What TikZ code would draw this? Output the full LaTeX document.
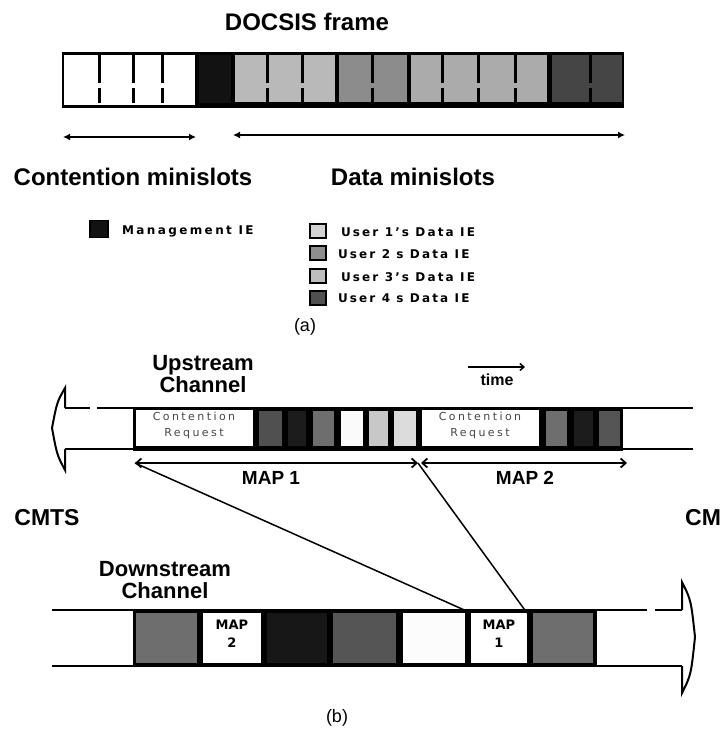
\documentclass[tikz,border=0pt]{standalone}
\usepackage{fontspec}
\setmainfont{Liberation Sans}
\newfontfamily\dvA[LetterSpace=20]{DejaVu Sans}
\newfontfamily\dvB[LetterSpace=18]{DejaVu Sans}
\newfontfamily\dvC[LetterSpace=22]{DejaVu Sans}
\newfontfamily\dvD{DejaVu Sans}
\usetikzlibrary{arrows.meta,fit}
\definecolor{ua}{HTML}{B9B9B9}
\definecolor{ub}{HTML}{8C8C8C}
\definecolor{uc}{HTML}{ABABAB}
\definecolor{ud}{HTML}{454545}
\definecolor{la}{HTML}{D2D2D2}
\definecolor{lb}{HTML}{8E8E8E}
\definecolor{lc}{HTML}{BEBEBE}
\definecolor{ld}{HTML}{505050}
\definecolor{gA}{HTML}{505050}
\definecolor{gB}{HTML}{1C1C1C}
\definecolor{gC}{HTML}{6E6E6E}
\definecolor{gD}{HTML}{C8C8C8}
\definecolor{gE}{HTML}{DCDCDC}
\definecolor{gF}{HTML}{555555}
\newcommand\cellbox[6]{\node[fit={(#2,#3) (#4,#5)}, inner sep=0pt, outer sep=0pt, fill=#6, draw=none] (#1) {};}
\tikzset{
  biglbl/.style={inner sep=0pt, outer sep=0pt, font=\bfseries\fontsize{24}{26}\selectfont},
  midlbl/.style={inner sep=0pt, outer sep=0pt, align=center, font=\bfseries\fontsize{22}{22}\selectfont},
  maplbl/.style={inner sep=0pt, outer sep=0pt, font=\bfseries\fontsize{19}{19}\selectfont},
  capt/.style={inner sep=0pt, outer sep=0pt, font=\fontsize{18}{18}\selectfont},
  sq/.style={draw=black, line width=1.6pt, inner sep=0pt, minimum width=16pt, minimum height=14pt},
  legA/.style={inner sep=0pt, outer sep=0pt, anchor=west, font=\dvA\bfseries\fontsize{12}{12}\selectfont},
  legB/.style={inner sep=0pt, outer sep=0pt, anchor=west, font=\dvB\bfseries\fontsize{12}{12}\selectfont},
  crtext/.style={inner sep=0pt, outer sep=0pt, align=center, text=black!72, font=\dvC\fontsize{11}{16}\selectfont},
  maptext/.style={inner sep=0pt, outer sep=0pt, align=center, font=\dvD\bfseries\fontsize{13}{18}\selectfont},
  divline/.style={line width=3pt, black, dash pattern=on 28pt off 5pt},
  spanarrow/.style={line width=2pt, {Latex[length=7pt,width=7pt]}-{Latex[length=7pt,width=7pt]}},
  maparrow/.style={line width=1.8pt, {Straight Barb[length=5pt,width=9pt]}-{Straight Barb[length=5pt,width=9pt]}},
  chan/.style={line width=2pt, black},
  conn/.style={line width=1.5pt, black},
}
\begin{document}
\begin{tikzpicture}[x=1pt,y=-1pt]
\useasboundingbox (0,0) rectangle (723,732);
\fill[white] (0,0) rectangle (723,732);

% ---------------- (a) ----------------
\node[biglbl] (title) at (307,22) {DOCSIS frame};
\node[fit={(62,52) (624,108)}, inner sep=0pt, outer sep=0pt, fill=black] (frame) {};
\cellbox{cw}{64}{55}{195}{105}{white}
\cellbox{cmg}{199}{55}{231}{103}{black!93}
\cellbox{cua}{235}{55}{335}{102}{ua}
\cellbox{cub}{339}{55}{407}{102}{ub}
\cellbox{cuc}{411}{55}{547}{102}{uc}
\cellbox{cud}{552}{55}{622}{102}{ud}
\foreach \x in {99,133,162,267,302,372,442,478,515,590} \draw[divline] (\x,55) -- (\x,103);

\coordinate (ca1) at (63,137);
\coordinate (ca2) at (196,137);
\draw[spanarrow] (ca1) -- (ca2);
\coordinate (da1) at (233,135);
\coordinate (da2) at (625,135);
\draw[spanarrow] (da1) -- (da2);
\node[biglbl] (contl) at (133,177) {Contention minislots};
\node[biglbl] (datal) at (413,177) {Data minislots};

% legend
\node[sq, fill=black!93, minimum width=18pt, minimum height=17pt] (lm) at (99,229) {};
\node[legA] (lmt) at (122,231) {Management IE};
\node[sq, fill=la] (l1) at (318,231) {};
\node[sq, fill=lb] (l2) at (318,253) {};
\node[sq, fill=lc] (l3) at (318,276) {};
\node[sq, fill=ld] (l4) at (318,298) {};
\node[legB] (l1t) at (341,232) {User 1’s Data IE};
\node[legB] (l2t) at (338,254) {User 2 s Data IE};
\node[legB] (l3t) at (341,277) {User 3’s Data IE};
\node[legB] (l4t) at (338,298) {User 4 s Data IE};
\node[capt] (capa) at (305,327) {(a)};

% ---------------- (b) ----------------
\node[midlbl] (upl) at (203,374) {Upstream\\Channel};
\node[inner sep=0pt, outer sep=0pt, font=\bfseries\fontsize{16}{16}\selectfont] (time) at (497,380) {time};
\coordinate (t1) at (468,367);
\coordinate (t2) at (525,367);
\draw[line width=1.5pt, -{Straight Barb[length=4pt,width=7pt]}] (t1) -- (t2);

% upstream channel lines and hollow arrow head (pointing left)
\coordinate (uh1) at (65,388);
\coordinate (uht) at (52,428);
\coordinate (uh2) at (65,470);
\draw[chan] (65,408) -- (90,408);
\draw[chan] (97,408) -- (693,408);
\draw[chan] (65,449) -- (693,449);
\draw[chan] (65,408) -- (uh1) .. controls (57,402) .. (uht) .. controls (57,455) .. (uh2) -- (65,449);

\node[fit={(133,407) (623,451)}, inner sep=0pt, outer sep=0pt, fill=black] (uframe) {};
\cellbox{ucr1}{136}{410}{253}{446}{white}
\cellbox{u2}{259}{411}{282}{446}{gA}
\cellbox{u3}{288}{411}{306}{446}{gB}
\cellbox{u4}{313}{411}{334}{446}{gC}
\cellbox{u5}{341}{411}{363}{446}{black!2}
\cellbox{u6}{369}{411}{388}{446}{gD}
\cellbox{u7}{394}{411}{416}{446}{gE}
\cellbox{ucr2}{422}{410}{539}{446}{white}
\cellbox{u9}{546}{411}{567}{446}{gC}
\cellbox{u10}{574}{411}{593}{446}{gB}
\cellbox{u11}{599}{411}{620}{446}{gF}
\node[crtext] (crt1) at (194,425) {Contention\\Request};
\node[crtext] (crt2) at (480,425) {Contention\\Request};

\coordinate (m1a) at (135,463);
\coordinate (m1b) at (418,463);
\coordinate (m2a) at (421,463);
\coordinate (m2b) at (627,463);
\draw[maparrow] (m1a) -- (m1b);
\draw[maparrow] (m2a) -- (m2b);
\node[maplbl] (map1l) at (271,478) {MAP 1};
\node[maplbl] (map2l) at (525,478) {MAP 2};

\node[inner sep=0pt, outer sep=0pt, font=\bfseries\fontsize{23}{23}\selectfont] (cmts) at (47,518) {CMTS};
\node[inner sep=0pt, outer sep=0pt, anchor=east, font=\bfseries\fontsize{23}{23}\selectfont] (cm) at (721,518) {CM};

\node[midlbl] (dnl) at (165,580) {Downstream\\Channel};

% downstream channel lines and hollow arrow head (pointing right)
\coordinate (dh1) at (682,582);
\coordinate (dht) at (695,637);
\coordinate (dh2) at (682,693);
\draw[chan] (52,610) -- (647,610);
\draw[chan] (655,610) -- (682,610);
\draw[chan] (52,666) -- (682,666);
\draw[chan] (682,610) -- (dh1) .. controls (691,600) .. (dht) .. controls (691,675) .. (dh2) -- (682,666);

\node[fit={(133,610) (597,667)}, inner sep=0pt, outer sep=0pt, fill=black] (dframe) {};
\cellbox{d1}{136}{613}{197}{663}{gC}
\cellbox{dmap2}{203}{613}{261}{663}{white}
\cellbox{d3}{267}{613}{327}{663}{black!91}
\cellbox{d4}{333}{613}{396}{663}{gF}
\cellbox{d5}{403}{613}{465}{663}{black!1}
\cellbox{dmap1}{471}{613}{527}{663}{white}
\cellbox{d7}{533}{613}{593}{663}{gC}
\node[maptext] (m2t) at (232,634) {MAP\\2};
\node[maptext] (m1t) at (499,634) {MAP\\1};

\draw[conn] (m1a) -- (dmap1.north west);
\draw[conn] (m1b) -- (dmap1.north east);

\node[capt] (capb) at (337,718) {(b)};
\end{tikzpicture}
\end{document}
